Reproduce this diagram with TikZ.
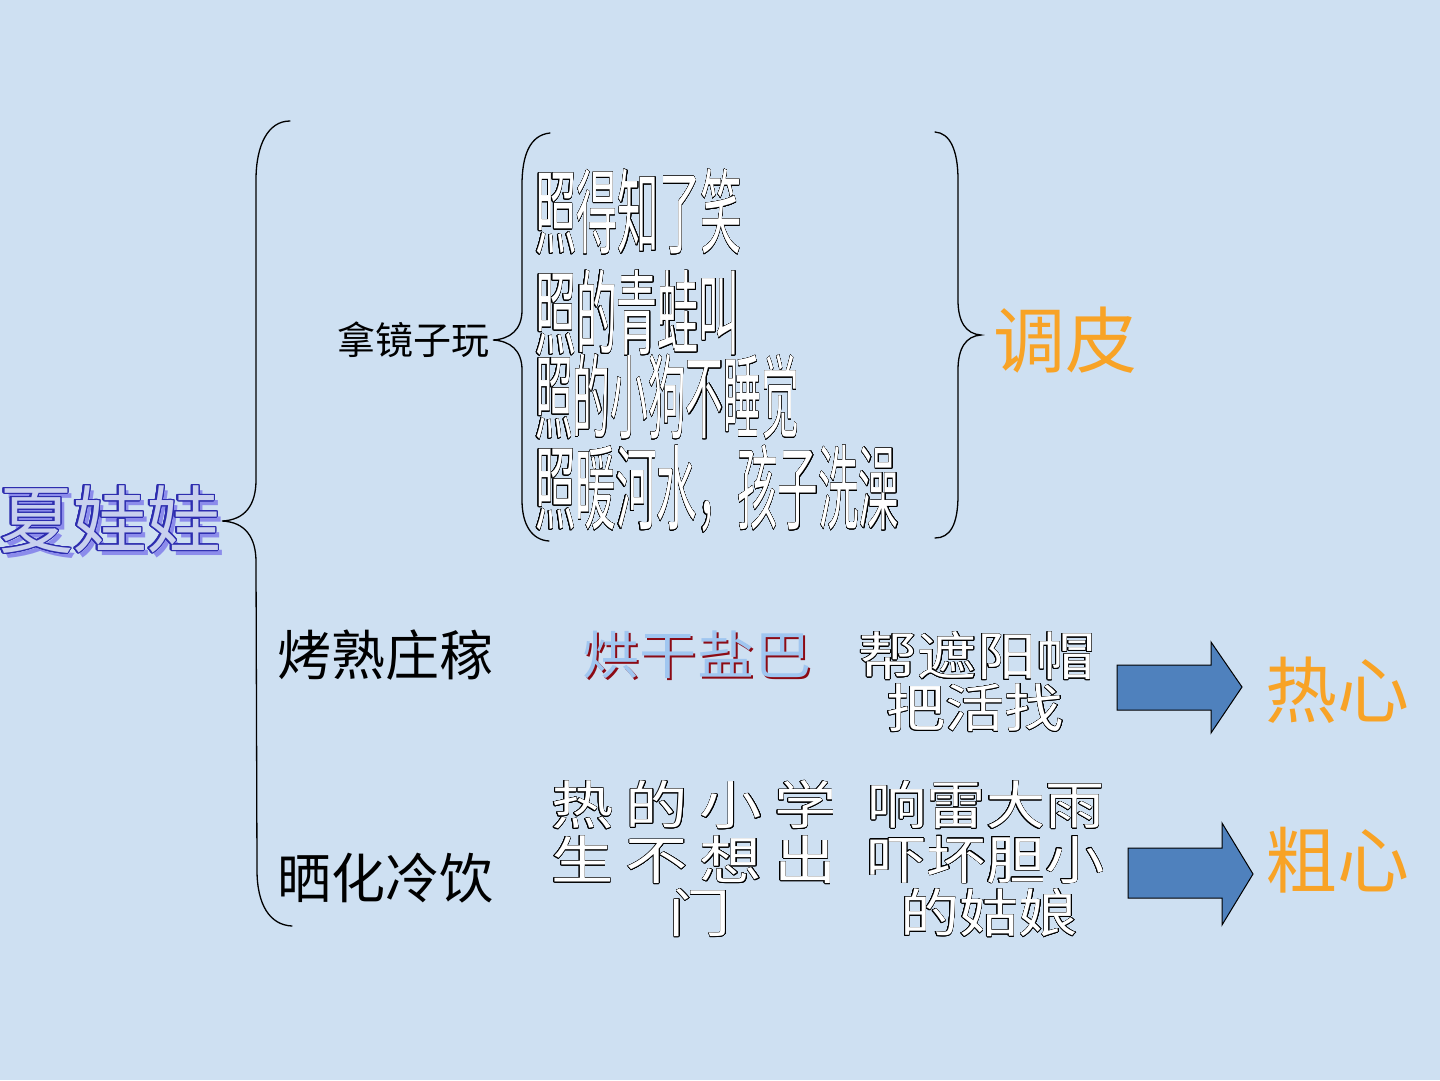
\documentclass[tikz,border=0pt]{standalone}
\usepackage{fontspec}
\newfontfamily\cjk{Noto Sans CJK SC}
\usepackage[copies]{contour}
\contourlength{0.5pt}
\contournumber{24}
\usepackage{tikz}
\definecolor{bg}{RGB}{206,224,242}
\definecolor{wawablue}{RGB}{45,45,175}
\definecolor{wawashade}{RGB}{140,140,235}
\definecolor{wawainner}{RGB}{200,208,238}
\definecolor{warm}{RGB}{248,163,38}
\definecolor{arrowblue}{RGB}{79,129,189}
\definecolor{saltblue}{RGB}{160,198,240}
\definecolor{saltred}{RGB}{140,10,20}
\newcommand\hollow[1]{\contour{black}{#1}}

\begin{document}
\begin{tikzpicture}[x=1pt,y=-1pt,
  brace/.style={line width=1.3pt,line cap=round},
  plaintxt/.style={inner sep=0pt,font=\cjk\fontsize{#1}{#1}\selectfont},
  hollowtxt/.style={inner sep=0pt,text=white,font=\cjk\fontsize{#1}{#1}\selectfont},
  warmtxt/.style={inner sep=0pt,text=warm,font=\cjk\fontsize{72}{72}\selectfont},
  blockarrow/.style={draw=black,fill=arrowblue,line width=1pt,line join=miter}]
  \fill[bg] (0,0) rectangle (1440,1080);
  \useasboundingbox (0,0) rectangle (1440,1080);
  \node[inner sep=0pt,text=wawashade,font=\cjk\fontsize{74}{74}\selectfont] (wawashadow) at (115,525) {夏娃娃};
  \node[inner sep=0pt,text=wawainner,font=\cjk\fontsize{74}{74}\selectfont] (wawa) at (110,520) {\contourlength{1.2pt}\contour{wawablue}{夏娃娃}};
  \draw[brace] (290,121) .. controls (268,121) and (256,145) .. (256,180) -- (256,480)
    .. controls (256,505) and (245,520) .. (222,521) .. controls (245,522) and (256,537) .. (256,562)
    -- (257,870) .. controls (257,905) and (270,925) .. (292,926);
  \node[plaintxt=38] (mirror) at (413,340) {拿镜子玩};
  \draw[brace] (550,133) .. controls (530,135) and (522,155) .. (522,185) -- (522,310)
    .. controls (522,330) and (510,339) .. (493,340) .. controls (510,341) and (522,350) .. (522,370)
    -- (522,500) .. controls (522,525) and (532,540) .. (549,541);
  \node[hollowtxt=92,xscale=0.45,anchor=west] (shine1) at (535,212) {\hollow{照得知了笑}};
  \node[hollowtxt=92,xscale=0.445,anchor=west] (shine2) at (535,313) {\hollow{照的青蛙叫}};
  \node[hollowtxt=92,xscale=0.41,anchor=west] (shine3) at (535,397) {\hollow{照的小狗不睡觉}};
  \node[hollowtxt=92,xscale=0.44,anchor=west] (shine4) at (535,489) {\hollow{照暖河水，孩子洗澡}};
  \draw[brace] (935,132) .. controls (950,133) and (958,150) .. (958,180) -- (958,300)
    .. controls (958,322) and (966,334) .. (981,335) .. controls (966,336) and (958,348) .. (958,370)
    -- (958,495) .. controls (958,525) and (950,538) .. (935,538);
  \node[warmtxt] (naughty) at (1065,340) {调皮};
  \node[plaintxt=54] (crops) at (385,655) {烤熟庄稼};
  \node[inner sep=0pt,text=saltred,xscale=1.1,font=\cjk\fontsize{52}{52}\selectfont] (saltshadow) at (699,657) {烘干盐巴};
  \node[inner sep=0pt,text=saltblue,xscale=1.1,font=\cjk\fontsize{52}{52}\selectfont] (salt) at (697,655) {烘干盐巴};
  \node[hollowtxt=52,xscale=1.14] (hat1) at (977,656) {\hollow{帮遮阳帽}};
  \node[hollowtxt=52,xscale=1.14] (hat2) at (975,708) {\hollow{把活找}};
  \draw[blockarrow] (1117,665) -- (1211,665) -- (1211,642) -- (1242,687) -- (1211,733) -- (1211,710) -- (1117,710) -- cycle;
  \node[warmtxt] (warmheart) at (1337,690) {热心};
  \node[plaintxt=54] (drinks) at (385,878) {晒化冷饮};
  \node[hollowtxt=52,xscale=1.2] (pupil1) at (694,805) {\hollow{\hbox to 238pt{热\hfill 的\hfill 小\hfill 学}}};
  \node[hollowtxt=52,xscale=1.2] (pupil2) at (694,860) {\hollow{\hbox to 238pt{生\hfill 不\hfill 想\hfill 出}}};
  \node[hollowtxt=52,xscale=1.2] (pupil3) at (700,913) {\hollow{门}};
  \node[hollowtxt=52,xscale=1.14] (thunder1) at (986,805) {\hollow{响雷大雨}};
  \node[hollowtxt=52,xscale=1.14] (thunder2) at (986,860) {\hollow{吓坏胆小}};
  \node[hollowtxt=52,xscale=1.14] (thunder3) at (989,913) {\hollow{的姑娘}};
  \draw[blockarrow] (1128,848) -- (1222,848) -- (1222,823) -- (1253,874) -- (1222,925) -- (1222,898) -- (1128,898) -- cycle;
  \node[warmtxt] (careless) at (1337,860) {粗心};
\end{tikzpicture}
\end{document}
